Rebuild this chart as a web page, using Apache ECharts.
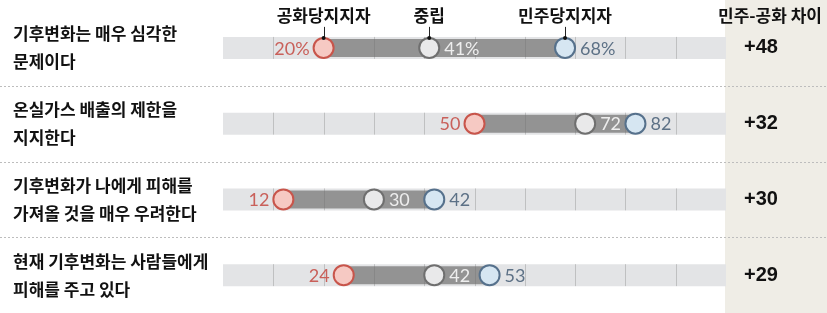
<!DOCTYPE html>
<html>
<head>
<meta charset="utf-8">
<script src="https://cdn.jsdelivr.net/npm/echarts@6/dist/echarts.min.js"></script>
<style>
html,body{margin:0;padding:0;background:#fff;}
#chart{width:827px;height:313px;}
</style>
</head>
<body>
<div id="chart"></div>
<script>
const categories = [
  '기후변화는 매우 심각한\n문제이다',
  '온실가스 배출의 제한을\n지지한다',
  '기후변화가 나에게 피해를\n가져올 것을 매우 우려한다',
  '현재 기후변화는 사람들에게\n피해를 주고 있다'
];
const repValues = [20, 50, 12, 24];
const neuValues = [41, 72, 30, 42];
const demValues = [68, 82, 42, 53];
const diffLabels = ['+48', '+32', '+30', '+29'];
const valueSuffix = ['%', '', '', ''];
const groupNames = ['공화당지지자', '중립', '민주당지지자'];
const diffHeader = '민주-공화 차이';
const trackTicks = [10, 20, 30, 40, 50, 60, 70, 80, 90];

const KR = '"Noto Sans CJK KR", "Noto Sans", sans-serif';
const NUM = 'Lato, "Open Sans", sans-serif';

const chart = echarts.init(document.getElementById('chart'), null, {renderer: 'canvas'});

const rowData = categories.map((c, i) => [i, repValues[i], neuValues[i], demValues[i]]);

function renderRow(params, api) {
  const i = api.value(0);
  const rep = api.value(1), neu = api.value(2), dem = api.value(3);
  const p0 = api.coord([0, i]);
  const y = p0[1];
  const x0 = p0[0];
  const x100 = api.coord([100, i])[0];
  const xr = api.coord([rep, i])[0];
  const xn = api.coord([neu, i])[0];
  const xd = api.coord([dem, i])[0];
  const sfx = valueSuffix[i];
  const children = [];
  children.push({type: 'rect', shape: {x: x0, y: y - 11, width: x100 - x0, height: 22}, style: {fill: '#e3e4e6'}});
  children.push({type: 'rect', shape: {x: xr, y: y - 9, width: xd - xr, height: 18}, style: {fill: '#939393'}});
  trackTicks.forEach(t => {
    const xt = Math.round(api.coord([t, i])[0]) + 0.5;
    children.push({type: 'line', shape: {x1: xt, y1: y - 11, x2: xt, y2: y + 11}, style: {stroke: 'rgba(110,110,110,0.3)', lineWidth: 1}});
  });
  const dots = [
    {x: xn, fill: '#e9e9ea', stroke: '#6f6f6f'},
    {x: xr, fill: '#f6c9c3', stroke: '#c8554b'},
    {x: xd, fill: '#d6e6f2', stroke: '#56718c'}
  ];
  dots.forEach(d => {
    children.push({type: 'circle', shape: {cx: d.x, cy: y, r: 10}, style: {fill: d.fill, stroke: d.stroke, lineWidth: 2}});
  });
  children.push({type: 'text', x: xr - 14, y: y + 1, style: {text: rep + sfx, fill: '#c9605a', font: '18px ' + NUM, align: 'right', verticalAlign: 'middle'}});
  children.push({type: 'text', x: xn + 15, y: y + 1, style: {text: neu + sfx, fill: '#eeeeee', font: '18px ' + NUM, align: 'left', verticalAlign: 'middle'}});
  children.push({type: 'text', x: xd + 15, y: y + 1, style: {text: dem + sfx, fill: '#5d7186', font: '18px ' + NUM, align: 'left', verticalAlign: 'middle'}});
  if (i === 0) {
    [xr, xn, xd].forEach((x, k) => {
      const xl = Math.round(x) + 0.5;
      children.push({type: 'line', shape: {x1: xl, y1: y - 21, x2: xl, y2: y - 10}, style: {stroke: '#222', lineWidth: 1}});
      children.push({type: 'circle', shape: {cx: x, cy: y - 10, r: 2}, style: {fill: '#111'}});
      children.push({type: 'text', x: x, y: y - 32, style: {text: groupNames[k], fill: '#111', font: 'bold 17px ' + KR, align: 'center', verticalAlign: 'middle'}});
    });
  }
  if (i < categories.length - 1) {
    const band = api.size([0, 1])[1];
    const yb = Math.round(y + band / 2) + 0.5;
    children.push({type: 'line', shape: {x1: 0, y1: yb, x2: api.getWidth(), y2: yb}, style: {stroke: '#bdbdbd', lineWidth: 1, lineDash: [2, 2]}});
  }
  return {type: 'group', children: children};
}

const option = {
  animation: false,
  backgroundColor: '#ffffff',
  graphic: [
    {type: 'rect', shape: {x: 725, y: 0, width: 102, height: 313}, style: {fill: '#efede6'}, z: -10, silent: true},
    {type: 'text', x: 822, y: 16, style: {text: diffHeader, fill: '#111', font: 'bold 17px ' + KR, align: 'right', verticalAlign: 'middle'}, z: 10}
  ],
  grid: {left: 223, right: 101, top: 10, height: 304},
  xAxis: {type: 'value', min: 0, max: 100, interval: 10, show: false},
  yAxis: [
    {
      type: 'category', data: categories, inverse: true, position: 'left',
      axisLine: {show: false}, axisTick: {show: false}, splitLine: {show: false},
      axisLabel: {align: 'left', margin: 210, fontSize: 17, fontWeight: 'bold', color: '#111', fontFamily: KR, lineHeight: 28}
    },
    {
      type: 'category', data: categories, inverse: true, position: 'right',
      axisLine: {show: false}, axisTick: {show: false}, splitLine: {show: false},
      axisLabel: {align: 'left', margin: 18, fontSize: 20, fontWeight: 'bold', color: '#111', fontFamily: '"Liberation Sans", Arial, sans-serif',
        formatter: (v, idx) => diffLabels[idx]}
    }
  ],
  series: [{
    type: 'custom',
    renderItem: renderRow,
    data: rowData,
    encode: {y: 0, x: 1},
    clip: false
  }]
};
chart.setOption(option);
</script>
</body>
</html>
